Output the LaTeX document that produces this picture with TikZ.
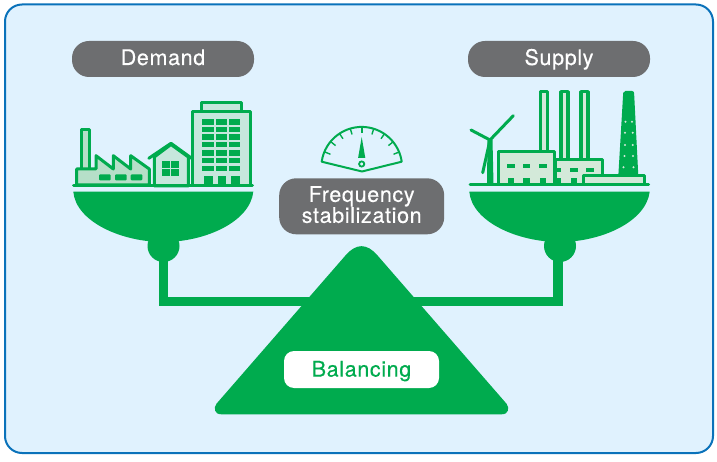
\documentclass[tikz,border=0pt]{standalone}
\usepackage{fontspec}
\setmainfont[FakeBold=0.35,LetterSpace=3]{TeX Gyre Heros}
\definecolor{scalegreen}{HTML}{00AB4E}
\definecolor{panelblue}{HTML}{E0F2FE}
\definecolor{frameblue}{HTML}{0A72BA}
\definecolor{pillgray}{HTML}{6D6E70}
\definecolor{lightbuild}{HTML}{C6E7DD}
\definecolor{lightplant}{HTML}{D3E9D9}
\definecolor{lightfactory}{HTML}{B6DFC8}
\tikzset{
  pill/.style={fill=pillgray,text=white,rounded corners=17pt,font=\fontsize{21.5}{21}\selectfont,align=center,inner sep=0pt},
  outline/.style={draw=scalegreen,line width=3pt,line join=round}
}
\begin{document}
\begin{tikzpicture}[x=1pt,y=-1pt]
\useasboundingbox(0,0)rectangle(717,462);
\draw[draw=frameblue,fill=panelblue,line width=2pt,rounded corners=17pt](5,4.5)rectangle(713,453); %panel
\fill[scalegreen](158.7,240)rectangle(168.3,306); %left stem
\fill[scalegreen](553,240)rectangle(563,306); %right stem
\fill[scalegreen](158.7,296.7)rectangle(563,306); %beam
\fill[scalegreen](163.5,246)circle(16); %left knob
\fill[scalegreen](560,246)circle(16);
\fill[scalegreen](73.3,191.7)--(253.3,191.7).. controls (250,222) and (205,242) .. (163.3,242).. controls (122,242) and (76,222) .. (73.3,191.7)--cycle; %left pan
\fill[scalegreen](469.3,191.7)--(649.7,191.7).. controls (646,222) and (601,242) .. (559.5,242).. controls (518,242) and (472,222) .. (469.3,191.7)--cycle; %right pan
\fill[scalegreen](345.8,255.1).. controls (356.2,243.2) and (366.8,243.2) .. (377.2,255.1)--(506.5,403.7).. controls (509.5,407.7) and (509,414.3) .. (501.7,414.3)--(221.3,414.3).. controls (214,414.3) and (213.5,407.7) .. (216.5,403.7)--cycle; %fulcrum
%demand side
\draw[outline,fill=lightfactory](81.7,169)--(81.7,129.3)--(89,129.3)--(89,169); %factory chimney
\draw[outline,fill=lightfactory](76.7,185)--(76.7,169)--(96,169)--(96,155.7)--(113.3,169)--(113.3,155.7)--(130.7,169)--(130.7,155.7)--(149.3,169)--(149.3,185)--cycle; %factory
\foreach \xa in {99,115,130.7}
  \fill[scalegreen,rounded corners=1pt](\xa,174.3)rectangle(\xa+11.7,180.3);
\draw[outline,fill=lightbuild](154.3,186)--(154.3,157)--(171,144.5)--(188.3,157)--(188.3,186)--cycle; %house
\draw[outline,line cap=round](148.8,158.3)--(171,143.3)--(191.7,158.3);
\fill[scalegreen](162,161)rectangle(179.3,176);
\draw[lightbuild,line width=1.2pt](170.6,161)--(170.6,176)(162,168.5)--(179.3,168.5);
\draw[outline,fill=lightbuild](201,112)rectangle(241,102.5); %tower block
\draw[outline,fill=lightbuild](192.7,186)rectangle(250.7,112);
\foreach \ya/\yb in {119/125,126.7/132.3,134.3/140,142/147.3,150/155.7,157.7/163.3,165.7/171}
  \foreach \xa/\xb in {202.3/214,216/227.3,229/240}
    \fill[scalegreen](\xa,\ya)rectangle(\xb,\yb);
\foreach \xa/\xb in {204.3/212.7,218/226,231.3/240}
  \fill[scalegreen](\xa,176)rectangle(\xb,185);
\draw[scalegreen,line width=3pt,line cap=round](73.5,185.3)--(252.5,185.3); %ground
%supply side
\fill[lightfactory](473,185)to[bend left=12](510,185)--cycle; %hill
\foreach \xa in {538.7,559.3,579.3}
  \draw[outline,line width=3.3pt,fill=lightplant](\xa+1.6,158)--(\xa+1.6,91.6)--(\xa+8.8,91.6)--(\xa+8.8,158); %stacks
\draw[outline,fill=lightplant](555,184)--(555,159.5)--(602.5,159.5)--(602.5,184); %hall
\draw[outline,fill=lightplant](498.5,184)--(498.5,151.5)--(554.5,151.5)--(554.5,184); %boiler house
\foreach \xa/\xb in {507/515,523/530.3,539/547}
  \fill[scalegreen](\xa,164)rectangle(\xb,168);
\foreach \xa/\xb in {508/514,523/530,540/546,556/561,571/577}
  \fill[scalegreen](\xa,178)rectangle(\xb,184);
\foreach \xa/\xb in {556/561,570/578,586/594}
  \fill[scalegreen](\xa,168)rectangle(\xb,172);
\draw[outline,fill=lightplant](583.5,184)--(583.5,175.5)--(644.5,175.5)--(644.5,184); %annex
\fill[scalegreen,rounded corners=2pt](618.3,176)--(623.3,91)--(634,91)--(638.3,176)--cycle; %flue tower
\foreach \yc/\xc/\xd in {121.7/625.5/632,132.7/625/632.7,145/625/632.7,156/624.5/633,167.3/623.5/633.5}
  {\fill[lightplant](\xc,\yc)circle(1.1);
   \fill[lightplant](\xd,\yc)circle(1.1);}
\draw[scalegreen,line width=3pt,line cap=round,line join=round](471,130)--(490,140)--(513.3,115.7); %blades
\draw[scalegreen,line width=3pt,line cap=round](490,140)--(482.7,172.7);
\fill[scalegreen](487.5,140)--(492.5,140)--(493.5,184)--(487,184)--cycle; %mast
\draw[scalegreen,line width=3pt,line cap=round](470,185)--(648.5,185); %ground
%labels
\node[pill,text height=12pt,text depth=0pt,minimum width=182pt,minimum height=36pt](demand)at(163,59){Demand};
\node[pill,text height=12pt,text depth=0pt,minimum width=182pt,minimum height=36pt](supply)at(559,59){Supply};
\node[pill,text depth=3.6pt,minimum width=165pt,minimum height=56pt](frequency)at(361.7,206.3){Frequency\\stabilization};
\node[pill,fill=white,text=scalegreen,text height=14.2pt,text depth=0pt,rounded corners=10pt,minimum width=155pt,minimum height=37pt](balancing)at(361.5,369.5){Balancing};
%gauge
\draw[scalegreen,line width=2pt,line join=round](321.7,161.7)arc(-172:-8:40.4)--(362,171.5)--cycle;
\foreach \ang in {22,39,...,158}
  \draw[scalegreen,line width=1.4pt](362+40*cos \ang,167-40*sin \ang)--(362+34*cos \ang,167-34*sin \ang);
\fill[scalegreen](361.7,137)--(365.3,158)--(358.1,158)--cycle;
\draw[scalegreen,line width=1.8pt,fill=panelblue](361.7,164)circle(2.6);
\end{tikzpicture}
\end{document}
